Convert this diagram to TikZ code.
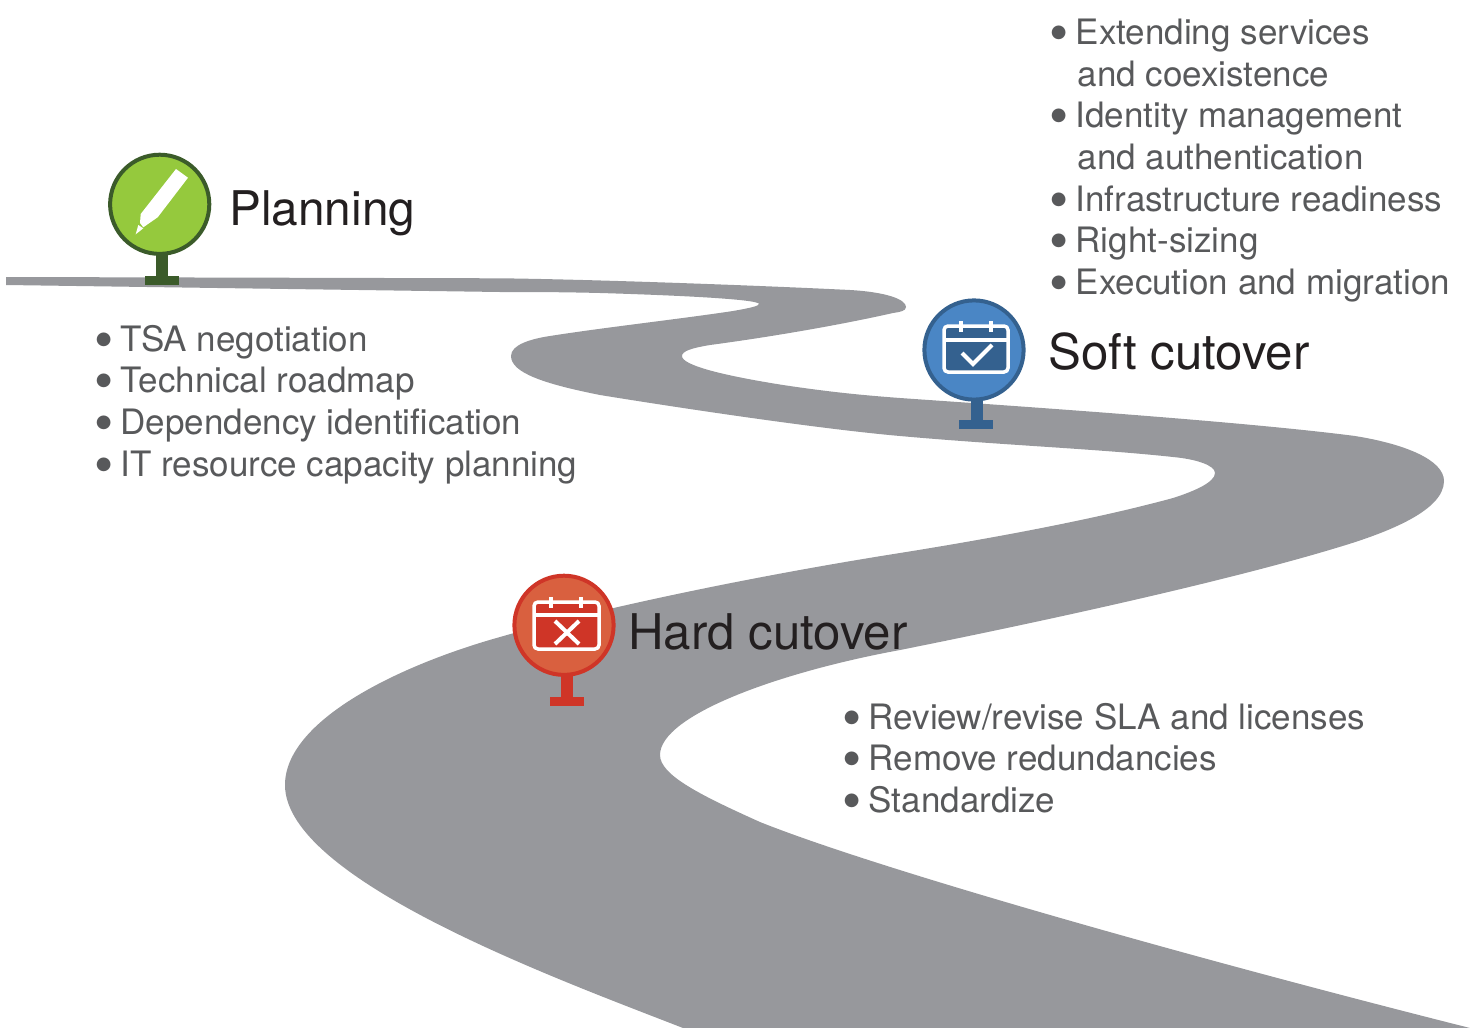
\documentclass[tikz,border=0pt]{standalone}
\usepackage{fontspec}
\setmainfont{TeX Gyre Heros}
\newfontfamily\bulletfont{DejaVu Sans}

\definecolor{roadgray}{HTML}{97989C}
\definecolor{listgray}{HTML}{58595B}
\definecolor{headblack}{HTML}{231F20}
\definecolor{plangreen}{HTML}{95C93D}
\definecolor{plandark}{HTML}{3B5B2A}
\definecolor{softblue}{HTML}{4A86C5}
\definecolor{softdark}{HTML}{34618F}
\definecolor{hardred}{HTML}{D9603F}
\definecolor{harddark}{HTML}{CF3527}

\newcommand{\itm}{\makebox[24.5pt][l]{\hspace*{-0.3pt}\raisebox{7pt}{\bulletfont\fontsize{18}{18}\selectfont ●}}}
\newcommand{\cnt}{\hspace*{26.5pt}}

\tikzset{
    heading/.style={anchor=base west, inner sep=0pt, text=headblack, font=\fontsize{49.2}{49.2}\selectfont},
    itemlist/.style={anchor=north west, inner sep=0pt, align=left, text=listgray, font=\fontsize{35}{41.6}\selectfont},
    iconline/.style={draw=white, line width=3.5pt},
}

\begin{document}
\begin{tikzpicture}[x=1pt, y=-1pt]

    \useasboundingbox (0,0) rectangle (1470,1028);

    % road
    \fill[roadgray] (6,277) -- (500,278.3)
        .. controls (600,279.5) and (770,286) .. (850,290)
        .. controls (885,292) and (906,299) .. (906,307)
        .. controls (906,311) and (900,312) .. (893,313)
        .. controls (840,325) and (770,337) .. (710,345)
        .. controls (692,348) and (682,351) .. (682,356)
        .. controls (682,365) and (720,375) .. (783,385)
        .. controls (830,392) and (860,395) .. (900,398)
        .. controls (1000,405) and (1240,421) .. (1355,436)
        .. controls (1405,444) and (1444,460) .. (1444,481)
        .. controls (1444,510) and (1390,532) .. (1336,548)
        .. controls (1230,580) and (1060,618) .. (900,650)
        .. controls (780,672) and (660,715) .. (660,755)
        .. controls (660,775) and (700,795) .. (760,822)
        .. controls (880,870) and (1200,960) .. (1470,1028)
        -- (683,1028)
        .. controls (560,980) and (285,880) .. (285,785)
        .. controls (285,720) and (400,665) .. (500,637)
        .. controls (600,608) and (760,575) .. (900,553)
        .. controls (1000,537) and (1100,518) .. (1173,498)
        .. controls (1195,491) and (1215,482) .. (1215,473)
        .. controls (1215,465) and (1195,459) .. (1173,457)
        .. controls (1100,449) and (1000,445) .. (900,436)
        .. controls (820,429) and (680,408) .. (600,395)
        .. controls (545,384) and (511,373) .. (511,356)
        .. controls (511,345) and (530,339) .. (550,336)
        .. controls (600,328) and (680,319) .. (733,311)
        .. controls (750,308) and (759,306) .. (759,304)
        .. controls (759,300) and (700,296) .. (600,293)
        .. controls (560,292) and (530,292) .. (500,292)
        -- (6,285) -- cycle;

    % planning pin
    \fill[plandark] (156,250) rectangle (168,278);
    \fill[plandark] (145,276) rectangle (179,285);
    \filldraw[fill=plangreen, draw=plandark, line width=4pt] (159.7,204.3) coordinate(planpin) circle (49.6);
    \fill[white] (176,169) -- (188,177.7) -- (157.7,217.3) -- (143.3,227.3) -- (140,223) -- (140.7,214) -- cycle;
    \fill[white] (135.7,234.3) -- (138.3,225) -- (143.3,228.3) -- cycle;

    % soft cutover pin
    \fill[softdark] (971,396) rectangle (983,422);
    \fill[softdark] (959,420) rectangle (993,429);
    \filldraw[fill=softblue, draw=softdark, line width=4pt] (974,350) coordinate(softpin) circle (49.6);
    \filldraw[fill=softdark, iconline, rounded corners=4pt] (944,326) rectangle (1008,372);
    \draw[iconline] (944,340) -- (1008,340);
    \draw[iconline] (961,321) -- (961,332);
    \draw[iconline] (991,321) -- (991,332);
    \draw[iconline, line width=4pt] (962,353) -- (973,364) -- (992,345);

    % hard cutover pin
    \fill[harddark] (561,672) rectangle (573,699);
    \fill[harddark] (550,697) rectangle (584,706);
    \filldraw[fill=hardred, draw=harddark, line width=4pt] (564,625.3) coordinate(hardpin) circle (49.6);
    \filldraw[fill=harddark, iconline, rounded corners=4pt] (534,602) rectangle (599,649);
    \draw[iconline] (534,615) -- (599,615);
    \draw[iconline] (551,597) -- (551,608);
    \draw[iconline] (581,597) -- (581,608);
    \draw[iconline, line width=4pt] (555,621) -- (579,644);
    \draw[iconline, line width=4pt] (579,621) -- (555,644);

    % headings
    \node[heading, font=\fontsize{47.8}{47.8}\selectfont] (planhead) at (229,225) {Planning};
    \node[heading] (softhead) at (1048,369) {Soft cutover};
    \node[heading] (hardhead) at (628,649) {Hard cutover};

    % lists
    \node[itemlist] (planlist) at (96,325) {\itm TSA negotiation\\ \itm Technical roadmap\\ \itm Dependency identification\\ \itm IT resource capacity planning};
    \node[itemlist] (softlist) at (1051,19) {\itm Extending services\\ \cnt and coexistence\\ \itm Identity management\\ \cnt and authentication\\ \itm Infrastructure readiness\\ \itm Right-sizing\\ \itm Execution and migration};
    \node[itemlist] (hardlist) at (844,703) {\itm Review/revise SLA and licenses\\ \itm Remove redundancies\\ \itm Standardize};

\end{tikzpicture}
\end{document}
